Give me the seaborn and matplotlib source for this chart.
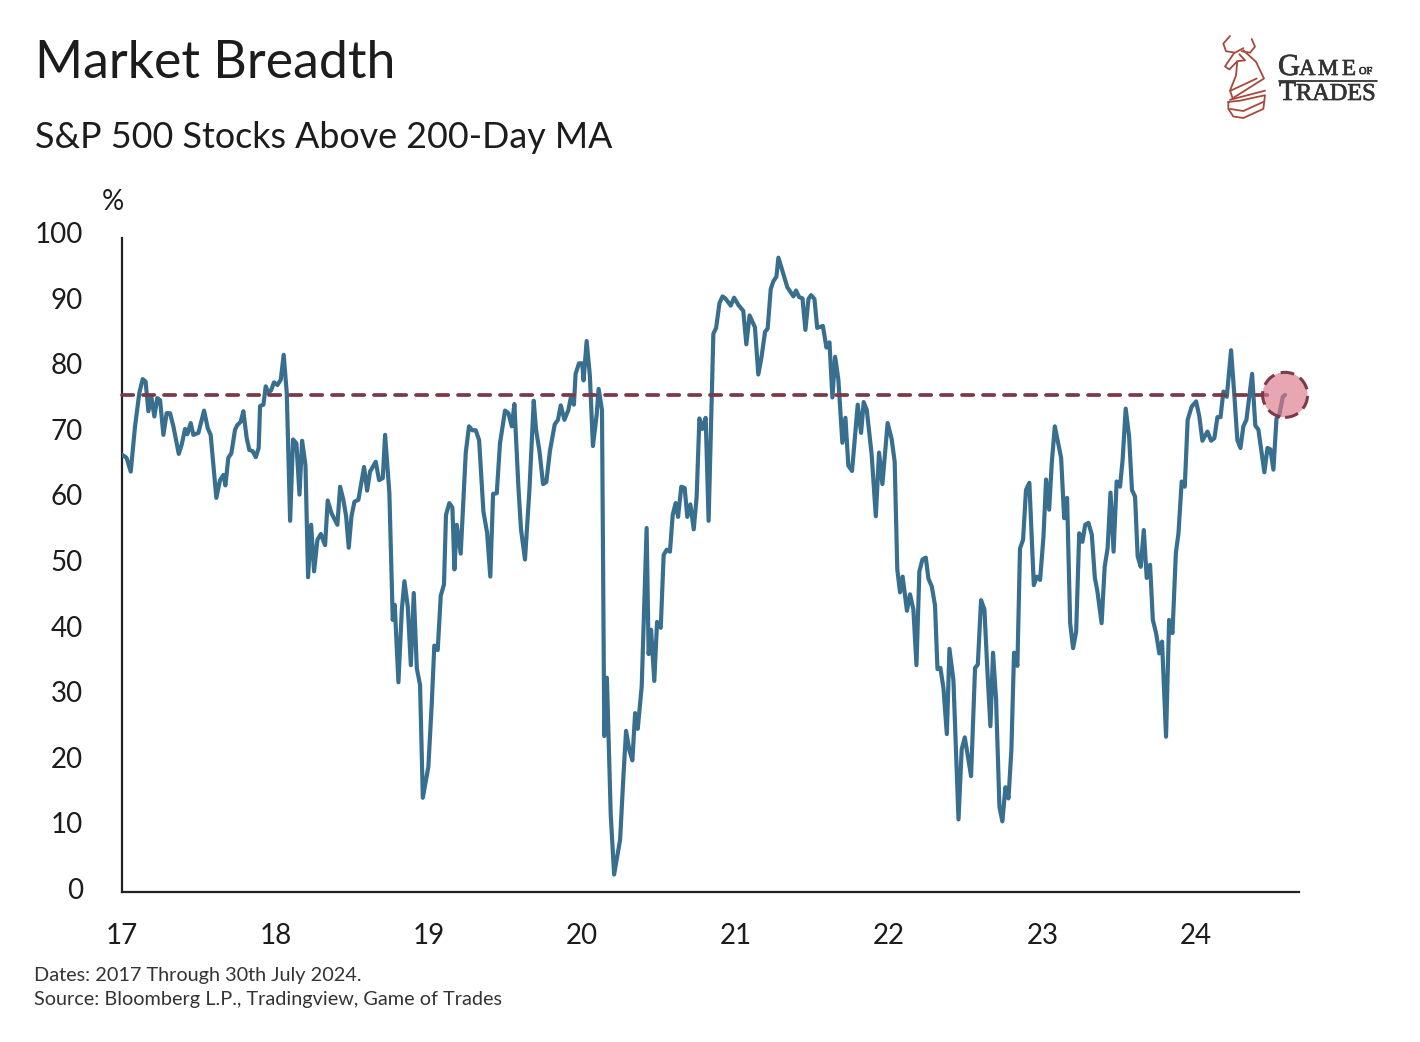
import numpy as np
import pandas as pd
import seaborn as sns
import matplotlib
matplotlib.use("Agg")
import matplotlib.pyplot as plt
import matplotlib.patheffects as pe
from matplotlib.lines import Line2D

# ---- data: years elapsed since start of 2017, and % of stocks above 200-day MA
years_elapsed = [
 0.00,.03,.057,.085,.113,.135,.154,.172,.191,.211,.23,.248,.27,.291,.313,.335,.37,.389,.411,.426,.448,.465,.498,.535,.559,.578,.615,.639,.661,.674,.693,.713,.737,.752,.774,.791,.813,.83,.852,.872,.891,.9,.922,.937,.954,.972,.991,
 1.013,1.035,1.054,1.074,1.096,1.115,1.137,1.157,1.174,1.196,1.213,1.233,1.252,1.274,1.296,1.324,1.341,1.365,1.404,1.422,1.443,1.461,1.478,1.496,1.515,1.541,1.578,1.598,1.617,1.654,1.676,1.7,1.715,1.743,1.765,1.778,1.802,1.824,1.841,1.863,1.883,1.902,1.922,1.943,1.961,
 1.997,2.019,2.036,2.058,2.078,2.099,2.112,2.134,2.154,2.167,2.182,2.208,2.241,2.262,2.284,2.306,2.328,2.356,2.38,2.401,2.419,2.443,2.464,2.497,2.519,2.541,2.558,2.584,2.601,2.627,2.656,2.684,2.699,2.721,2.745,2.766,2.79,2.821,2.842,2.86,2.884,2.91,2.925,2.946,2.957,2.979,
 3.0,3.009,3.029,3.05,3.07,3.094,3.107,3.129,3.144,3.161,3.186,3.208,3.247,3.269,3.286,3.308,3.327,3.345,3.362,3.388,3.42,3.433,3.449,3.47,3.488,3.512,3.531,3.551,3.572,3.59,3.609,3.625,3.646,3.668,3.685,3.705,3.727,3.746,3.764,3.783,3.805,3.824,3.855,3.873,3.895,3.915,3.933,3.968,3.99,
 4.018,4.05,4.07,4.091,4.126,4.148,4.168,4.192,4.209,4.229,4.246,4.266,4.279,4.3,4.337,4.377,4.394,4.414,4.436,4.455,4.475,4.492,4.514,4.532,4.569,4.592,4.612,4.631,4.649,4.67,4.696,4.716,4.735,4.759,4.796,4.818,4.835,4.855,4.887,4.914,4.935,4.957,4.991,
 5.017,5.037,5.054,5.072,5.089,5.117,5.137,5.159,5.179,5.198,5.218,5.24,5.257,5.279,5.3,5.316,5.335,5.355,5.377,5.394,5.42,5.453,5.474,5.494,5.513,5.535,5.561,5.579,5.6,5.622,5.642,5.661,5.678,5.698,5.72,5.739,5.759,5.779,5.798,5.815,5.837,5.854,5.874,5.893,5.915,5.944,5.963,5.985,
 6.007,6.024,6.044,6.061,6.081,6.122,6.142,6.161,6.181,6.2,6.22,6.24,6.261,6.279,6.3,6.322,6.342,6.359,6.386,6.406,6.425,6.444,6.464,6.484,6.506,6.523,6.543,6.565,6.584,6.604,6.621,6.641,6.661,6.68,6.702,6.72,6.741,6.762,6.78,6.806,6.826,6.848,6.87,6.887,6.908,6.928,6.947,6.973,
 7.002,7.023,7.043,7.076,7.1,7.121,7.141,7.161,7.18,7.202,7.23,7.252,7.271,7.291,7.31,7.33,7.367,7.388,7.408,7.447,7.467,7.486,7.506,7.526,7.545,7.567,7.582]
pct_above_ma = [
 66.2,65.7,63.6,70.5,75.6,77.7,77.3,72.8,75,72,74.8,74.5,69.2,72.5,72.5,70.5,66.3,67.7,70.1,69.3,71,69.2,69.5,72.9,70.2,69.2,59.6,62.3,63.1,61.5,65.7,66.4,70,70.7,71.2,72.8,68.7,66.9,66.7,65.8,67.2,73.6,73.8,76.6,75.6,76,77.2,
 76.8,77.6,81.4,75.6,56.1,68.5,67.9,60.1,68.3,64.6,47.5,55.5,48.4,53.2,54.1,52.4,59.2,57.3,55.5,61.3,59.3,56.8,52,56.8,59,59.3,64.3,60.7,63.6,65.1,62.3,62.6,69.2,60.3,41,43.3,31.5,42.5,46.9,43,34.1,45.1,33.6,31.1,13.9,
 18.6,28.1,37.1,36.4,44.7,46.4,57,58.8,58.1,48.7,55.5,51.1,66.5,70.5,69.9,69.9,68.4,57.5,54.3,47.6,60.2,60.3,67.9,72.9,72.5,70.5,73.9,61.3,54.8,50.2,60.8,74.4,70,66.8,61.7,62,66.8,70.8,71.5,73.7,71.5,73,74.8,73.8,78.5,80.1,
 80.1,77.5,83.5,78.2,67.5,72.2,76.2,73,23.3,32.2,11.3,2.2,7.5,17.3,24.1,21.1,19.6,26.8,24.4,30.9,55,35.8,39.5,31.7,40.7,39.8,50.9,51.7,51.4,57,58.8,56.7,61.3,61.1,56.7,58.6,54.8,59.7,71.7,70.1,71.8,56.1,84.6,85.5,89.3,90.3,90,88.9,90.1,
 89,88.1,83,87.4,85.6,78.4,80.9,84.9,85.4,91.4,92.6,93.3,96.2,94.6,91.7,90.3,91.2,90.2,90,85.2,89.9,90.5,89.9,85.5,85.8,82.5,83.3,74.9,81.1,77.6,68,71.8,64.5,63.7,73.8,69.5,74.2,73,66.2,56.8,66.5,61.7,71,
 68.6,65.1,48.7,45.2,47.6,42.4,44.9,42.6,34.1,48.4,50.2,50.5,47.3,46.1,43.2,33.5,33.7,30.6,23.6,36.6,31.8,10.6,21.3,23.1,20.4,17.2,33.7,34.2,44,42.6,33,24.8,36,28.9,12.5,10.3,15.5,13.8,21.3,36,34,51.9,53.2,60.8,61.9,46.3,47.6,47.1,
 53.7,62.4,57.8,64.9,70.5,65.7,56.5,59.6,40.5,36.7,39.2,54.2,52.9,55.5,55.8,54,47.4,45.3,40.5,49.1,51.9,60.4,51.4,62.1,61.3,65.4,73.2,69,60.8,59.8,50.7,49.1,54.7,47.4,49.4,41,39,35.9,37.7,23.2,41,39,51.2,54.2,62.1,61.3,71.5,73.5,
 74.3,72,68.3,69.7,68.3,68.7,71.9,71.9,75.8,75,82.1,75,68.4,67.2,70.5,71.5,78.5,70.6,70,63.5,67.2,67,63.9,71.7,72.3,75,75.3]
start_year = 17
current_level = 75.3
x_ticks = [17, 18, 19, 20, 21, 22, 23, 24]
y_ticks = [0, 10, 20, 30, 40, 50, 60, 70, 80, 90, 100]

W, H = 1420, 1042
sns.set_theme(style="white")
plt.rcParams['font.family'] = ['Lato', 'DejaVu Sans']
TXT = '#1c1c1c'
LINE = '#386f8f'
MAROON = '#7b3a4a'

df = pd.DataFrame({'year': [start_year + v for v in years_elapsed], 'pct': pct_above_ma})

fig = plt.figure(figsize=(W/100, H/100), dpi=100, facecolor='white')
L, R, T, B = 122, 1299, 238, 892
ax = fig.add_axes([L/W, 1-B/H, (R-L)/W, (B-T)/H])
sns.lineplot(data=df, x='year', y='pct', sort=False, estimator=None, color=LINE,
             linewidth=3.0, ax=ax, zorder=3, solid_joinstyle='round')
ax.set_xlim(start_year, start_year + (R-L)/153.4)
ax.set_ylim(-0.46, 99.2)
ax.plot([start_year, df['year'].iloc[-1] - 0.05], [current_level]*2, color=MAROON, lw=2.7,
        dashes=(3.0, 2.6), dash_capstyle='round', zorder=4, clip_on=False)
ax.scatter([df['year'].iloc[-1]], [current_level], s=1050, facecolor=(0.86, 0.47, 0.54, 0.66),
           edgecolor=MAROON, linewidth=2.2, linestyle=(0, (4.5, 2.2)), zorder=5, clip_on=False)

for s in ('top', 'right'):
    ax.spines[s].set_visible(False)
for s in ('left', 'bottom'):
    ax.spines[s].set_color('#222222')
    ax.spines[s].set_linewidth(1.6)
ax.set_xlabel(''); ax.set_ylabel('')
ax.set_xticks(x_ticks); ax.set_yticks([])
ax.set_xticklabels([])
ax.tick_params(length=0)

def ftext(x, y, s, **kw):
    kw.setdefault('color', TXT)
    return fig.text(x/W, 1-y/H, s, **kw)

ftext(35, 64, 'Market Breadth', fontsize=37.4, va='center', ha='left')
ftext(35, 138, 'S&P 500 Stocks Above 200-Day MA', fontsize=25.8, va='center', ha='left')
ftext(113, 202, '%', fontsize=20, va='center', ha='center')
for v in y_ticks:
    ftext(83, 891 - 6.56*v, str(v), fontsize=20, va='center', ha='right')
for v in x_ticks:
    ftext(122 + 153.4*(v-17), 936, str(v), fontsize=20, va='center', ha='center')
ftext(34, 976, 'Dates: 2017 Through 30th July 2024.', fontsize=14.3, va='center', ha='left', color='#333333')
ftext(34, 1000, 'Source: Bloomberg L.P., Tradingview, Game of Trades', fontsize=14.3, va='center', ha='left', color='#333333')

# logo: outline sketch in a pixel-space overlay
ov = fig.add_axes([0, 0, 1, 1], facecolor='none')
ov.set_xlim(0, W); ov.set_ylim(H, 0); ov.axis('off')
RED = '#a8483c'
shapes = [
 [(90,45),(70,70),(78,95),(105,100),(130,85)],
 [(155,55),(165,80),(150,100),(125,95)],
 [(103,100),(75,145),(88,155),(112,128),(108,175),(90,225),(98,250)],
 [(130,92),(168,130),(192,185),(98,250)],
 [(118,105),(135,125),(112,128)],
 [(90,255),(195,225)],[(92,225),(170,185)],
 [(85,262),(120,258),(195,240),(190,285),(130,315),(100,310),(85,285),(85,262)],
 [(90,285),(130,292),(190,262)],
]
for sh in shapes:
    xs = [1200 + p[0]/3 for p in sh]; ys = [36 + (p[1]-45)*82/270 for p in sh]
    ov.add_line(Line2D(xs, ys, color=RED, lw=1.3))

SER = 'Liberation Serif'
LOGO = '#333333'
bold = [pe.withStroke(linewidth=0.5, foreground=LOGO)]
def logo(x, y, s, size):
    ov.text(x, y, s, family=SER, fontsize=size, color=LOGO, va='baseline', ha='left', path_effects=bold)
logo(1278, 75, 'G', 22)
logo(1299, 75, 'A', 16.5)
logo(1318, 75, 'M', 16.5)
logo(1342, 75, 'E', 16.5)
logo(1359, 74, 'OF', 7.5)
ov.add_line(Line2D([1279, 1377], [81, 81], color=LOGO, lw=1.3))
logo(1279, 100, 'T', 20)
logo(1296, 100, 'RADES', 17.5)

fig.savefig('out.png', dpi=100, facecolor='white')
